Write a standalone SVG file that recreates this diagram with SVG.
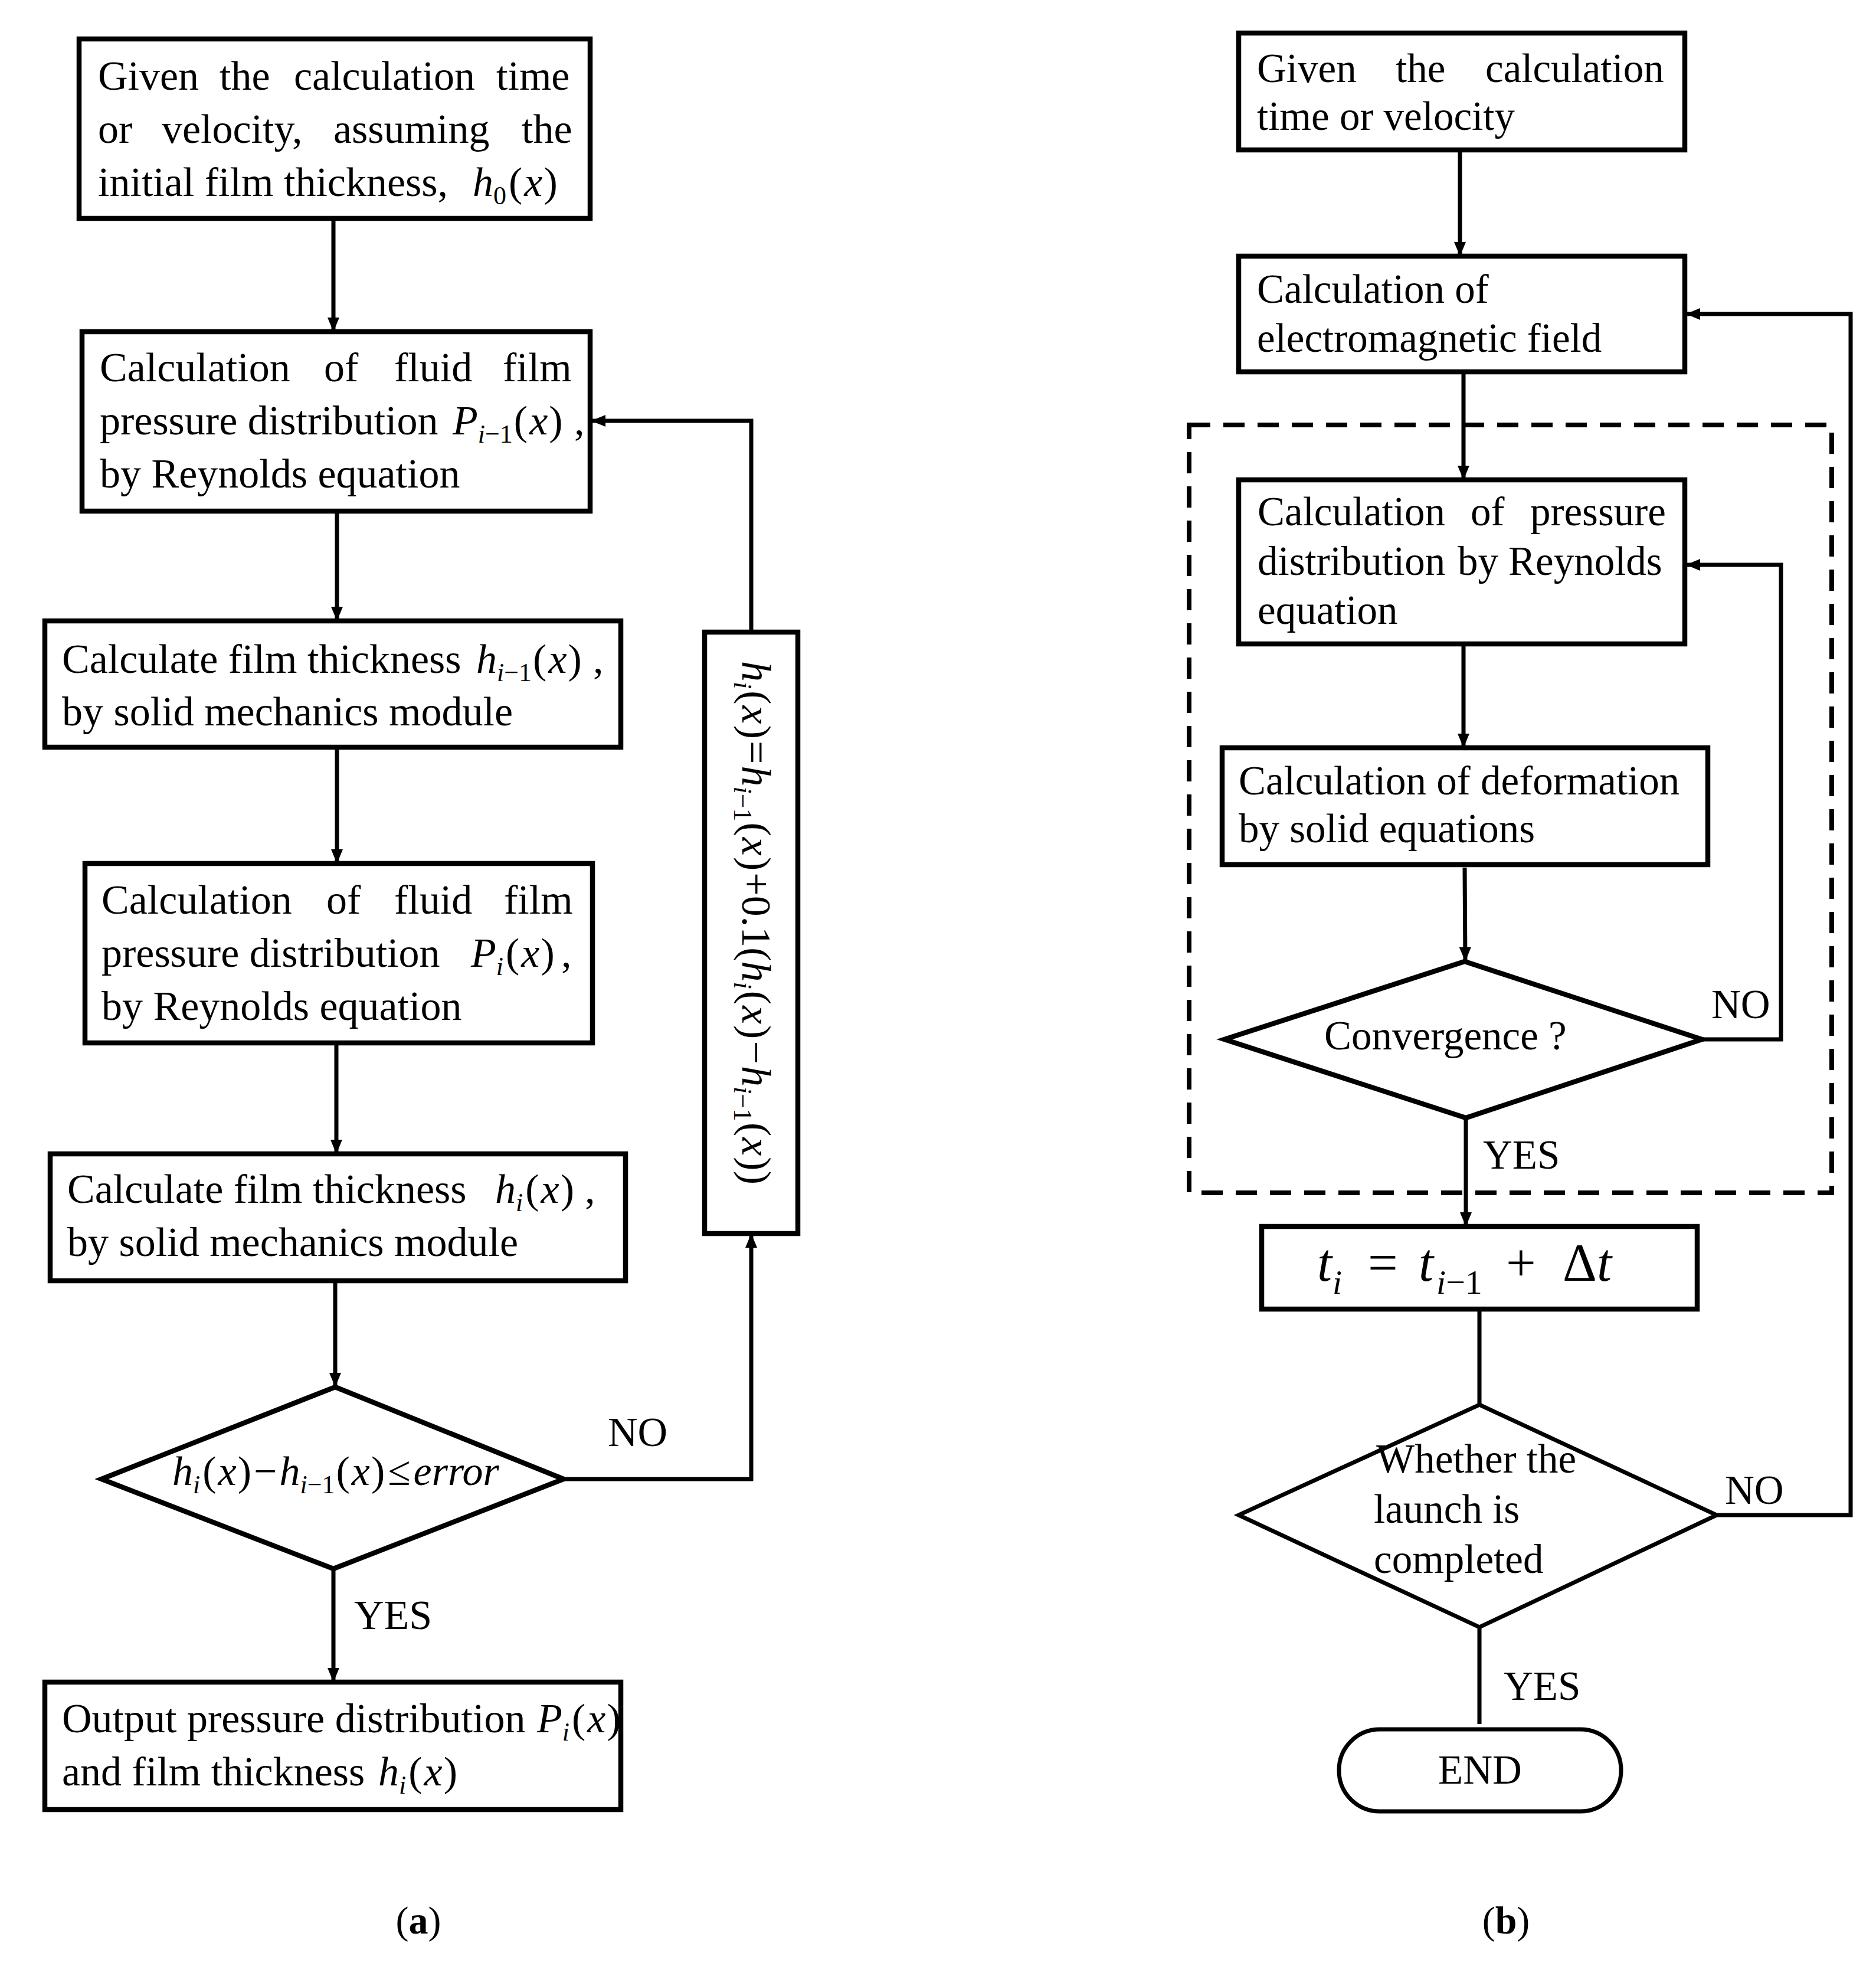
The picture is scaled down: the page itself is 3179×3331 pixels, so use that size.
<svg xmlns="http://www.w3.org/2000/svg" width="3179" height="3331" viewBox="0 0 3179 3331">
<defs>
<style>
.box{fill:#fff;stroke:#000;stroke-width:8.5}
.dia{fill:#fff;stroke:#000;stroke-width:8.5}
.thin{fill:#fff;stroke:#000;stroke-width:7}
.ln{fill:none;stroke:#000;stroke-width:7}
.dash{fill:none;stroke:#000;stroke-width:8;stroke-dasharray:36 22}
.t{font-family:"Liberation Serif","Times New Roman",serif;font-size:70px;fill:#000}
.r{font-size:69px}
.it{font-style:italic}
.sub{font-size:44px}
.big{font-size:90px}
.bsub{font-size:58px}
.lab{font-family:"Liberation Serif","Times New Roman",serif;font-size:66px;fill:#000}
</style>
<marker id="ah" markerUnits="userSpaceOnUse" markerWidth="24" markerHeight="20" refX="24" refY="10" orient="auto">
<path d="M0,0 L24,10 L0,20 Z" fill="#000"/>
</marker>
</defs>
<rect width="3179" height="3331" fill="#fff"/>

<g id="connectors">
<line class="ln" x1="565" y1="370" x2="565" y2="562" marker-end="url(#ah)"/>
<line class="ln" x1="571" y1="866" x2="571" y2="1052" marker-end="url(#ah)"/>
<line class="ln" x1="571" y1="1266" x2="571" y2="1463" marker-end="url(#ah)"/>
<line class="ln" x1="570" y1="1767" x2="570" y2="1955" marker-end="url(#ah)"/>
<line class="ln" x1="568" y1="2170" x2="568" y2="2350" marker-end="url(#ah)"/>
<line class="ln" x1="565" y1="2658" x2="565" y2="2850" marker-end="url(#ah)"/>
<polyline class="ln" points="955,2506 1273,2506 1273,2090" marker-end="url(#ah)"/>
<polyline class="ln" points="1273,1071 1273,713 1002,713" marker-end="url(#ah)"/>

<line class="ln" x1="2474" y1="254" x2="2474" y2="434" marker-end="url(#ah)"/>
<line class="ln" x1="2480" y1="630" x2="2480" y2="813" marker-end="url(#ah)"/>
<line class="ln" x1="2480" y1="1091" x2="2480" y2="1267" marker-end="url(#ah)"/>
<line class="ln" x1="2482" y1="1470" x2="2483" y2="1629" marker-end="url(#ah)"/>
<line class="ln" x1="2484" y1="1894" x2="2484" y2="2078" marker-end="url(#ah)"/>
<polyline class="ln" points="2884,1761 3018,1761 3018,957 2857,957" marker-end="url(#ah)"/>
<line class="ln" x1="2507" y1="2218" x2="2507" y2="2380"/>
<polyline class="ln" points="2909,2567 3136,2567 3136,532 2857,532" marker-end="url(#ah)"/>
<line class="ln" x1="2507" y1="2757" x2="2507" y2="2921"/>
</g>

<g id="labels">
<text class="t" x="1030" y="2450">NO</text>
<text class="t" x="600" y="2760">YES</text>
<text class="t r" x="2900" y="1725">NO</text>
<text class="t r" x="2513" y="1980">YES</text>
<text class="t r" x="2923" y="2548">NO</text>
<text class="t r" x="2548" y="2880">YES</text>
<text class="lab" x="709" y="3276" text-anchor="middle">(<tspan font-weight="bold">a</tspan>)</text>
<text class="lab" x="2552" y="3276" text-anchor="middle">(<tspan font-weight="bold">b</tspan>)</text>
</g>

<g id="a1">
<rect class="box" x="134" y="66" width="866" height="304"/>
<text class="t" y="152"><tspan x="166">Given</tspan><tspan x="372">the</tspan><tspan x="498">calculation</tspan><tspan x="841">time</tspan></text>
<text class="t" y="242"><tspan x="166">or</tspan><tspan x="274">velocity,</tspan><tspan x="565">assuming</tspan><tspan x="884">the</tspan></text>
<text class="t" x="166" y="332">initial film thickness,</text>
<text class="t" x="801" y="332"><tspan class="it">h</tspan><tspan class="sub" dy="14">0</tspan><tspan dy="-14" dx="4">(</tspan><tspan class="it" dx="3">x</tspan><tspan dx="2">)</tspan></text>
</g>

<g id="a2">
<rect class="box" x="139" y="562" width="861" height="304"/>
<text class="t" y="646"><tspan x="169">Calculation</tspan><tspan x="549">of</tspan><tspan x="668">fluid</tspan><tspan x="852">film</tspan></text>
<text class="t" x="169" y="736">pressure distribution</text>
<text class="t" x="767" y="736"><tspan class="it">P</tspan><tspan class="sub" dy="14"><tspan class="it">i</tspan>−1</tspan><tspan dy="-14" dx="2">(</tspan><tspan class="it" dx="3">x</tspan><tspan dx="2">)</tspan></text>
<text class="t" x="973" y="736">,</text>
<text class="t" x="169" y="826">by Reynolds equation</text>
</g>

<g id="a3">
<rect class="box" x="76" y="1052" width="976" height="214"/>
<text class="t" x="105" y="1140">Calculate film thickness</text>
<text class="t" x="807" y="1140"><tspan class="it">h</tspan><tspan class="sub" dy="14"><tspan class="it">i</tspan>−1</tspan><tspan dy="-14" dx="2">(</tspan><tspan class="it" dx="3">x</tspan><tspan dx="2">)</tspan></text>
<text class="t" x="1005" y="1140">,</text>
<text class="t" x="105" y="1229">by solid mechanics module</text>
</g>

<g id="a4">
<rect class="box" x="144" y="1463" width="860" height="304"/>
<text class="t" y="1548"><tspan x="172">Calculation</tspan><tspan x="553">of</tspan><tspan x="668">fluid</tspan><tspan x="854">film</tspan></text>
<text class="t" x="172" y="1638">pressure distribution</text>
<text class="t" x="798" y="1638"><tspan class="it">P</tspan><tspan class="sub it" dy="14">i</tspan><tspan dy="-14" dx="4">(</tspan><tspan class="it" dx="3">x</tspan><tspan dx="2">)</tspan></text>
<text class="t" x="951" y="1638">,</text>
<text class="t" x="172" y="1728">by Reynolds equation</text>
</g>

<g id="a5">
<rect class="box" x="85" y="1955" width="975" height="215"/>
<text class="t" x="114" y="2038">Calculate film thickness</text>
<text class="t" x="839" y="2038"><tspan class="it">h</tspan><tspan class="sub it" dy="14">i</tspan><tspan dy="-14" dx="4">(</tspan><tspan class="it" dx="3">x</tspan><tspan dx="2">)</tspan></text>
<text class="t" x="991" y="2038">,</text>
<text class="t" x="114" y="2128">by solid mechanics module</text>
</g>

<g id="a-side">
<rect class="box" x="1194" y="1071" width="158" height="1019"/>
<text class="t" transform="translate(1258,1120) rotate(90)"><tspan class="it">h</tspan><tspan class="sub it" dy="14">i</tspan><tspan dy="-14" dx="3">(</tspan><tspan class="it" dx="2">x</tspan><tspan dx="2">)</tspan><tspan dx="3">=</tspan><tspan class="it" dx="3">h</tspan><tspan class="sub" dy="14"><tspan class="it">i</tspan>−1</tspan><tspan dy="-14" dx="2">(</tspan><tspan class="it" dx="2">x</tspan><tspan dx="2">)</tspan><tspan dx="3">+0.1(</tspan><tspan class="it">h</tspan><tspan class="sub it" dy="14">i</tspan><tspan dy="-14" dx="3">(</tspan><tspan class="it" dx="2">x</tspan><tspan dx="2">)</tspan><tspan dx="3">−</tspan><tspan class="it" dx="3">h</tspan><tspan class="sub" dy="14"><tspan class="it">i</tspan>−1</tspan><tspan dy="-14" dx="2">(</tspan><tspan class="it" dx="2">x</tspan><tspan dx="2">))</tspan></text>
</g>

<g id="a-dec">
<polygon class="dia" points="568,2350 955,2506 565,2658 172,2506"/>
<text class="t" x="292" y="2516"><tspan class="it">h</tspan><tspan class="sub it" dy="14">i</tspan><tspan dy="-14" dx="4">(</tspan><tspan class="it" dx="3">x</tspan><tspan dx="2">)</tspan><tspan dx="4">−</tspan><tspan class="it" dx="4">h</tspan><tspan class="sub" dy="14"><tspan class="it">i</tspan>−1</tspan><tspan dy="-14" dx="2">(</tspan><tspan class="it" dx="3">x</tspan><tspan dx="2">)</tspan><tspan dx="5">≤</tspan><tspan class="it" dx="5">error</tspan></text>
</g>

<g id="a6">
<rect class="box" x="76" y="2850" width="976" height="216"/>
<text class="t" x="105" y="2935">Output pressure distribution</text>
<text class="t" x="910" y="2935"><tspan class="it">P</tspan><tspan class="sub it" dy="14">i</tspan><tspan dy="-14" dx="4">(</tspan><tspan class="it" dx="3">x</tspan><tspan dx="2">)</tspan></text>
<text class="t" x="105" y="3025">and film thickness</text>
<text class="t" x="641" y="3025"><tspan class="it">h</tspan><tspan class="sub it" dy="14">i</tspan><tspan dy="-14" dx="4">(</tspan><tspan class="it" dx="3">x</tspan><tspan dx="2">)</tspan></text>
</g>

<g id="b-dashed">
<rect class="dash" x="2015" y="720" width="1089" height="1301"/>
</g>

<g id="b1">
<rect class="box" x="2099" y="56" width="756" height="198"/>
<text class="t r" y="139"><tspan x="2130">Given</tspan><tspan x="2365">the</tspan><tspan x="2517">calculation</tspan></text>
<text class="t r" x="2130" y="220">time or velocity</text>
</g>

<g id="b2">
<rect class="box" x="2099" y="434" width="756" height="196"/>
<text class="t r" x="2130" y="513">Calculation of</text>
<text class="t r" x="2130" y="596">electromagnetic field</text>
</g>

<g id="b3">
<rect class="box" x="2099" y="813" width="756" height="278"/>
<text class="t r" y="890"><tspan x="2131">Calculation</tspan><tspan x="2492">of</tspan><tspan x="2593">pressure</tspan></text>
<text class="t r" y="974"><tspan x="2131">distribution</tspan><tspan x="2470">by</tspan><tspan x="2556">Reynolds</tspan></text>
<text class="t r" x="2131" y="1057">equation</text>
</g>

<g id="b4">
<rect class="box" x="2071" y="1267" width="823" height="198"/>
<text class="t r" x="2099" y="1346">Calculation of deformation</text>
<text class="t r" x="2099" y="1427">by solid equations</text>
</g>

<g id="b-dec1">
<polygon class="dia" points="2482,1629 2884,1761 2484,1894 2075,1761"/>
<text class="t r" x="2244" y="1778">Convergence ?</text>
</g>

<g id="b5">
<rect class="box" x="2138" y="2078" width="738" height="140"/>
<text class="t big it" x="2232" y="2170">t</text>
<text class="t bsub it" x="2258" y="2192">i</text>
<text class="t big" x="2318" y="2170">=</text>
<text class="t big it" x="2404" y="2170">t</text>
<text class="t bsub" x="2434" y="2192"><tspan class="it">i</tspan>−1</text>
<text class="t big" x="2552" y="2170">+</text>
<text class="t big" x="2648" y="2170">Δ<tspan class="it">t</tspan></text>
</g>

<g id="b-dec2">
<polygon class="thin" points="2507,2380 2909,2567 2507,2757 2099,2567"/>
<text class="t r" x="2332" y="2495">Whether the</text>
<text class="t r" x="2328" y="2580">launch is</text>
<text class="t r" x="2328" y="2665">completed</text>
</g>

<g id="b-end">
<rect class="thin" x="2269" y="2930" width="478" height="139" rx="69" ry="69"/>
<text class="t r" x="2508" y="3022" text-anchor="middle">END</text>
</g>
</svg>
